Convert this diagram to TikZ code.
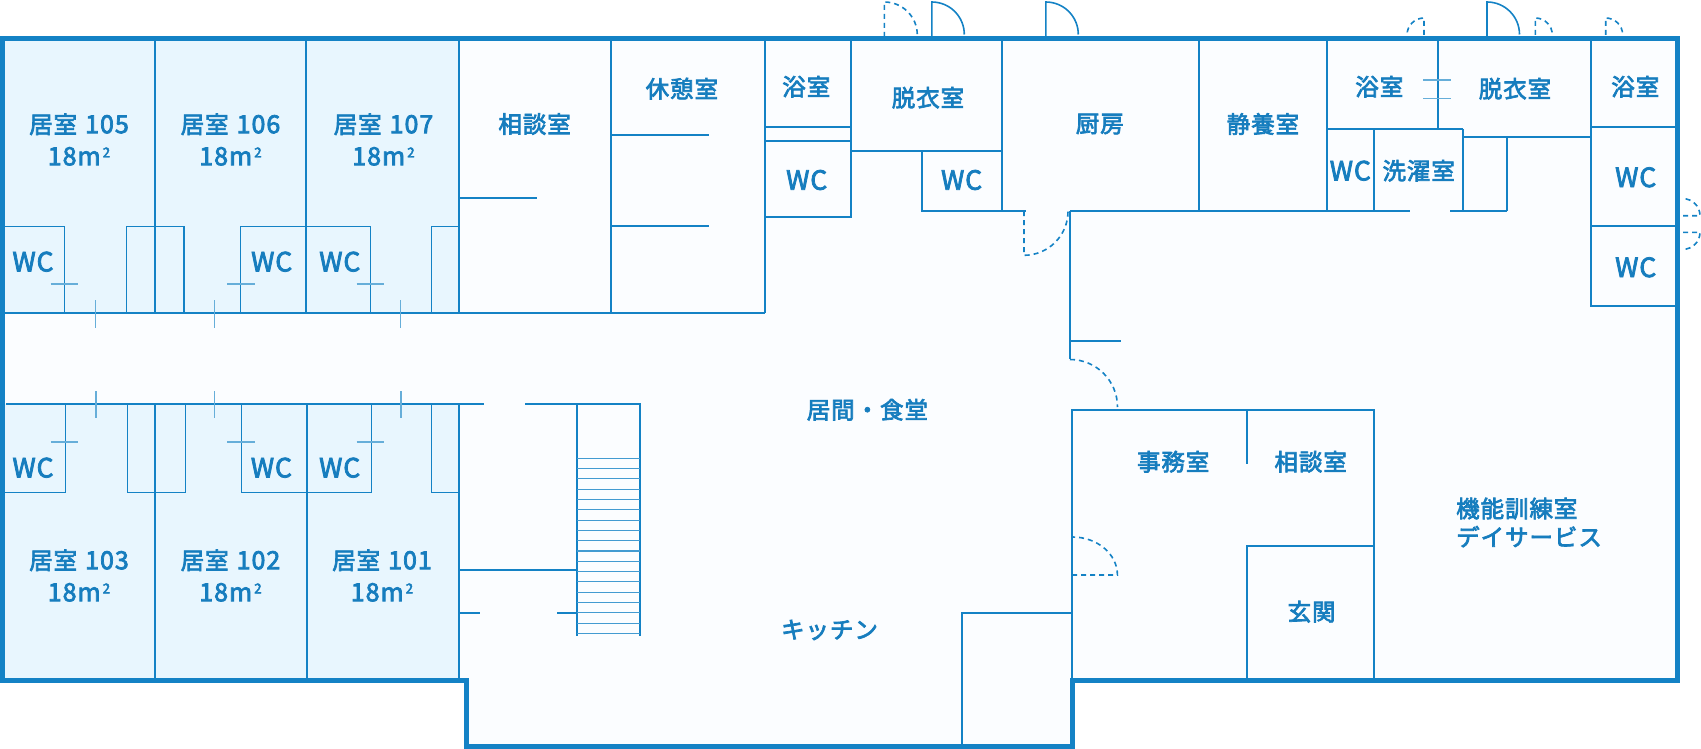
\documentclass[tikz,border=0pt]{standalone}
\usepackage{fontspec}
\setmainfont{Noto Sans CJK JP}[LetterSpace=4,FakeBold=3]
\definecolor{wallblue}{RGB}{20, 130, 197}
\definecolor{textblue}{RGB}{22, 125, 190}
\definecolor{roomfill}{RGB}{232, 246, 254}
\definecolor{floorfill}{RGB}{251, 253, 255}
\tikzset{
  outerwall/.style={draw=wallblue, line width=5pt, miter limit=10},
  wall/.style={draw=wallblue, line width=2pt},
  thinwall/.style={draw=wallblue, line width=1.5pt},
  paleline/.style={draw=wallblue!65, line width=1.4pt},
  treadline/.style={draw=wallblue!80, line width=1.1pt},
  doorswing/.style={draw=wallblue, line width=1.6pt},
  doordash/.style={doorswing, dash pattern=on 5pt off 4pt},
  roomlabel/.style={text=textblue, align=center, inner sep=0pt, font=\fontsize{23.5}{32}\selectfont},
  wclabel/.style={roomlabel, font=\fontsize{26.5}{32}\selectfont},
}
\newcommand{\latn}[1]{{\fontsize{25}{32}\selectfont #1}}
\newcommand{\sqm}{\latn{18m}\hspace{2pt}\raisebox{0.62ex}{\fontsize{13.5}{13.5}\selectfont 2}}
\newcommand{\bedroom}[1]{居室\hspace{8pt}\latn{#1}\\\sqm}
\begin{document}
\begin{tikzpicture}[x=1pt, y=-1pt]
  \useasboundingbox (0,0) rectangle (1701,749);

  % Floor and rooms
  \fill[floorfill] (2.5,39) -- (1677.5,39) -- (1677.5,680.7) -- (1072,680.7) -- (1072,746.5) -- (466,746.5) -- (466,680.7) -- (2.5,680.7) -- cycle;
  \fill[roomfill] (2.5,39) rectangle (458.5,313.3);
  \fill[roomfill] (2.5,404.3) rectangle (459.3,680.7);

  % Upper rooms
  \draw[wall] (155.4,39) -- (155.4,313.3);
  \draw[wall] (306.2,39) -- (306.2,313.3);
  \draw[wall] (458.5,39) -- (458.5,313.3);
  \draw[wall] (2.5,313.3) -- (765.3,313.3);
  \draw[wall] (458.5,198) -- (536.5,198);
  \draw[thinwall] (5,226.7) -- (64.3,226.7) -- (64.3,313.3);
  \draw[thinwall] (126.3,313.3) -- (126.3,226.7) -- (184,226.7) -- (184,313.3);
  \draw[thinwall] (240.3,313.3) -- (240.3,226.7) -- (370.5,226.7) -- (370.5,313.3);
  \draw[thinwall] (431.3,313.3) -- (431.3,226.7) -- (458.5,226.7);
  \foreach \xa/\xb in {50.5/78, 227.3/254.9, 356.7/384.2}
    \draw[paleline] (\xa,284) -- (\xb,284);
  \foreach \xa in {95.7, 214.7, 400.7}
    \draw[paleline] (\xa,300) -- (\xa,327.7);

  % Lower rooms
  \draw[wall] (6,404.3) -- (484.3,404.3);
  \draw[wall] (525.4,404.3) -- (641,404.3);
  \draw[wall] (155.3,404.3) -- (155.3,680.7);
  \draw[wall] (306.7,404.3) -- (306.7,680.7);
  \draw[wall] (459.3,404.3) -- (459.3,680.7);
  \draw[thinwall] (5,492.3) -- (65.6,492.3) -- (65.6,404.3);
  \draw[thinwall] (127.7,404.3) -- (127.7,492.3) -- (185.3,492.3) -- (185.3,404.3);
  \draw[thinwall] (241.5,404.3) -- (241.5,492.3) -- (371.4,492.3) -- (371.4,404.3);
  \draw[thinwall] (431.7,404.3) -- (431.7,492.3) -- (459.3,492.3);
  \foreach \xa/\xb in {50.9/78.1, 227.2/254.9, 356.7/383.9}
    \draw[paleline] (\xa,442) -- (\xb,442);
  \foreach \xa in {96, 214.7, 400.9}
    \draw[paleline] (\xa,391) -- (\xa,418.3);
  \draw[wall] (459.3,570) -- (576.8,570);
  \draw[wall] (459.3,613.3) -- (480,613.3);
  \draw[wall] (557,613.3) -- (576.8,613.3);

  % Stairs
  \draw[wall] (576.8,404.3) -- (576.8,636);
  \draw[wall] (640,404.3) -- (640,636);
  \foreach \i in {0,...,17}
    \draw[treadline] (576.8,458.3+10.3*\i) -- (640,458.3+10.3*\i);

  % Rear rooms, left part
  \draw[wall] (610.7,39) -- (610.7,313.3);
  \draw[wall] (610.7,134.7) -- (709,134.7);
  \draw[wall] (610.7,225.7) -- (709,225.7);
  \draw[wall] (765.3,39) -- (765.3,313.3);
  \draw[wall] (851.4,39) -- (851.4,216.7) -- (765.3,216.7);
  \draw[wall] (765.3,127) -- (851.4,127);
  \draw[wall] (765.3,140.7) -- (851.4,140.7);
  \draw[wall] (851.4,151) -- (1002.2,151);
  \draw[wall] (1002.2,39) -- (1002.2,211);
  \draw[wall] (922.2,151) -- (922.2,211) -- (1026.3,211);
  \draw[wall] (1070,211) -- (1409.7,211);
  \draw[wall] (1450,211) -- (1506.7,211);
  \draw[wall] (1198.9,39) -- (1198.9,211);
  \draw[wall] (1070,211) -- (1070,359.3);
  \draw[wall] (1070,341) -- (1120.5,341);

  % Rear rooms, right part
  \draw[wall] (1326.7,39) -- (1326.7,211);
  \draw[wall] (1438.3,39) -- (1438.3,129);
  \draw[wall] (1326.7,129) -- (1463.3,129);
  \draw[wall] (1374,129) -- (1374,211);
  \draw[wall] (1462.7,129) -- (1462.7,211);
  \draw[wall] (1462.7,137.3) -- (1591.3,137.3);
  \draw[wall] (1506.7,137.3) -- (1506.7,211);
  \draw[wall] (1591.3,39) -- (1591.3,306) -- (1677.5,306);
  \draw[wall] (1591.3,127) -- (1677.5,127);
  \draw[wall] (1591.3,225.7) -- (1677.5,225.7);
  \draw[paleline] (1423.3,80) -- (1450.7,80);
  \draw[paleline] (1423.3,98.7) -- (1450.7,98.7);

  % Office block
  \draw[wall] (1071.9,410.3) rectangle (1374,680.7);
  \draw[wall] (1247.3,410.3) -- (1247.3,464.3);
  \draw[wall] (1247.3,680.7) -- (1247.3,546) -- (1374,546);
  \draw[wall] (1071.9,613.3) -- (962,613.3) -- (962,746.5);

  % Doors
  \draw[doordash] (884.3,37) -- (884.3,2) arc[start angle=90, end angle=0, radius=33pt];
  \draw[doorswing] (931.8,37) -- (931.8,2) arc[start angle=90, end angle=0, radius=32.5pt];
  \draw[doorswing] (1045.8,37) -- (1045.8,2) arc[start angle=90, end angle=0, radius=32.5pt];
  \draw[doorswing] (1487,37) -- (1487,2) arc[start angle=90, end angle=0, radius=32.5pt];
  \draw[doordash] (1424,35) -- (1424,18) arc[start angle=90, end angle=180, radius=17pt];
  \draw[doordash] (1535.3,35) -- (1535.3,18) arc[start angle=90, end angle=0, radius=17pt];
  \draw[doordash] (1605.7,35) -- (1605.7,18) arc[start angle=90, end angle=0, radius=17pt];
  \draw[doordash] (1683,215.7) -- (1700,215.7) arc[start angle=0, end angle=90, radius=17pt];
  \draw[doordash] (1683,232.3) -- (1700,232.3) arc[start angle=0, end angle=-90, radius=17pt];
  \draw[doordash] (1024,211) -- (1024,255.3) arc[start angle=-90, end angle=0, radius=44pt];
  \draw[doordash] (1070,359.5) arc[start angle=90, end angle=0, radius=47.5pt];
  \draw[doordash] (1072,575) -- (1117.4,575) arc[start angle=0, end angle=90, x radius=45pt, y radius=38pt];

  % Outer walls
  \draw[outerwall] (2.5,680.7) -- (2.5,39) -- (1677.5,39) -- (1677.5,680.7) -- (1072,680.7) -- (1072,746.5) -- (466,746.5) -- (466,680.7) -- cycle;

  % Labels
  \node[roomlabel] (room105) at (79,139.5) {\bedroom{105}};
  \node[roomlabel] (room106) at (230.5,139.5) {\bedroom{106}};
  \node[roomlabel] (room107) at (383.5,139.5) {\bedroom{107}};
  \node[roomlabel] (room103) at (79,575.5) {\bedroom{103}};
  \node[roomlabel] (room102) at (230.5,575.5) {\bedroom{102}};
  \node[roomlabel] (room101) at (382,575.5) {\bedroom{101}};
  \node[wclabel] (wc1) at (33,261.7) {WC};
  \node[wclabel] (wc2) at (271.7,261.7) {WC};
  \node[wclabel] (wc3) at (339.8,261.7) {WC};
  \node[wclabel] (wc4) at (33,467.7) {WC};
  \node[wclabel] (wc5) at (271.4,467.7) {WC};
  \node[wclabel] (wc6) at (339.7,467.7) {WC};
  \node[wclabel] (wc7) at (806.7,180) {WC};
  \node[wclabel] (wc8) at (961.6,180) {WC};
  \node[wclabel] (wc9) at (1350.3,170.7) {WC};
  \node[wclabel] (wc10) at (1635.7,177.3) {WC};
  \node[wclabel] (wc11) at (1635.7,267.3) {WC};
  \node[roomlabel] (consult1) at (534.6,124) {相談室};
  \node[roomlabel] (rest) at (681.9,88.7) {休憩室};
  \node[roomlabel] (bath1) at (806.3,86.7) {浴室};
  \node[roomlabel] (changing1) at (928,97.7) {脱衣室};
  \node[roomlabel] (galley) at (1099.8,124) {厨房};
  \node[roomlabel] (sickbay) at (1263,124) {静養室};
  \node[roomlabel] (bath2) at (1379.3,86.7) {浴室};
  \node[roomlabel] (changing2) at (1515,88.7) {脱衣室};
  \node[roomlabel] (bath3) at (1635.3,86.7) {浴室};
  \node[roomlabel] (laundry) at (1418.7,170.7) {洗濯室};
  \node[roomlabel] (living) at (867.4,409.7) {居間・食堂};
  \node[roomlabel] (kitchen) at (829.5,630) {キッチン};
  \node[roomlabel] (office) at (1173.2,461.7) {事務室};
  \node[roomlabel] (consult2) at (1310.7,461.7) {相談室};
  \node[roomlabel] (entrance) at (1311.6,611.7) {玄関};
  \node[roomlabel, align=left, anchor=west, font=\fontsize{23.5}{28.5}\selectfont] (daycare) at (1456,522.5) {機能訓練室\\デイサービス};
\end{tikzpicture}
\end{document}
